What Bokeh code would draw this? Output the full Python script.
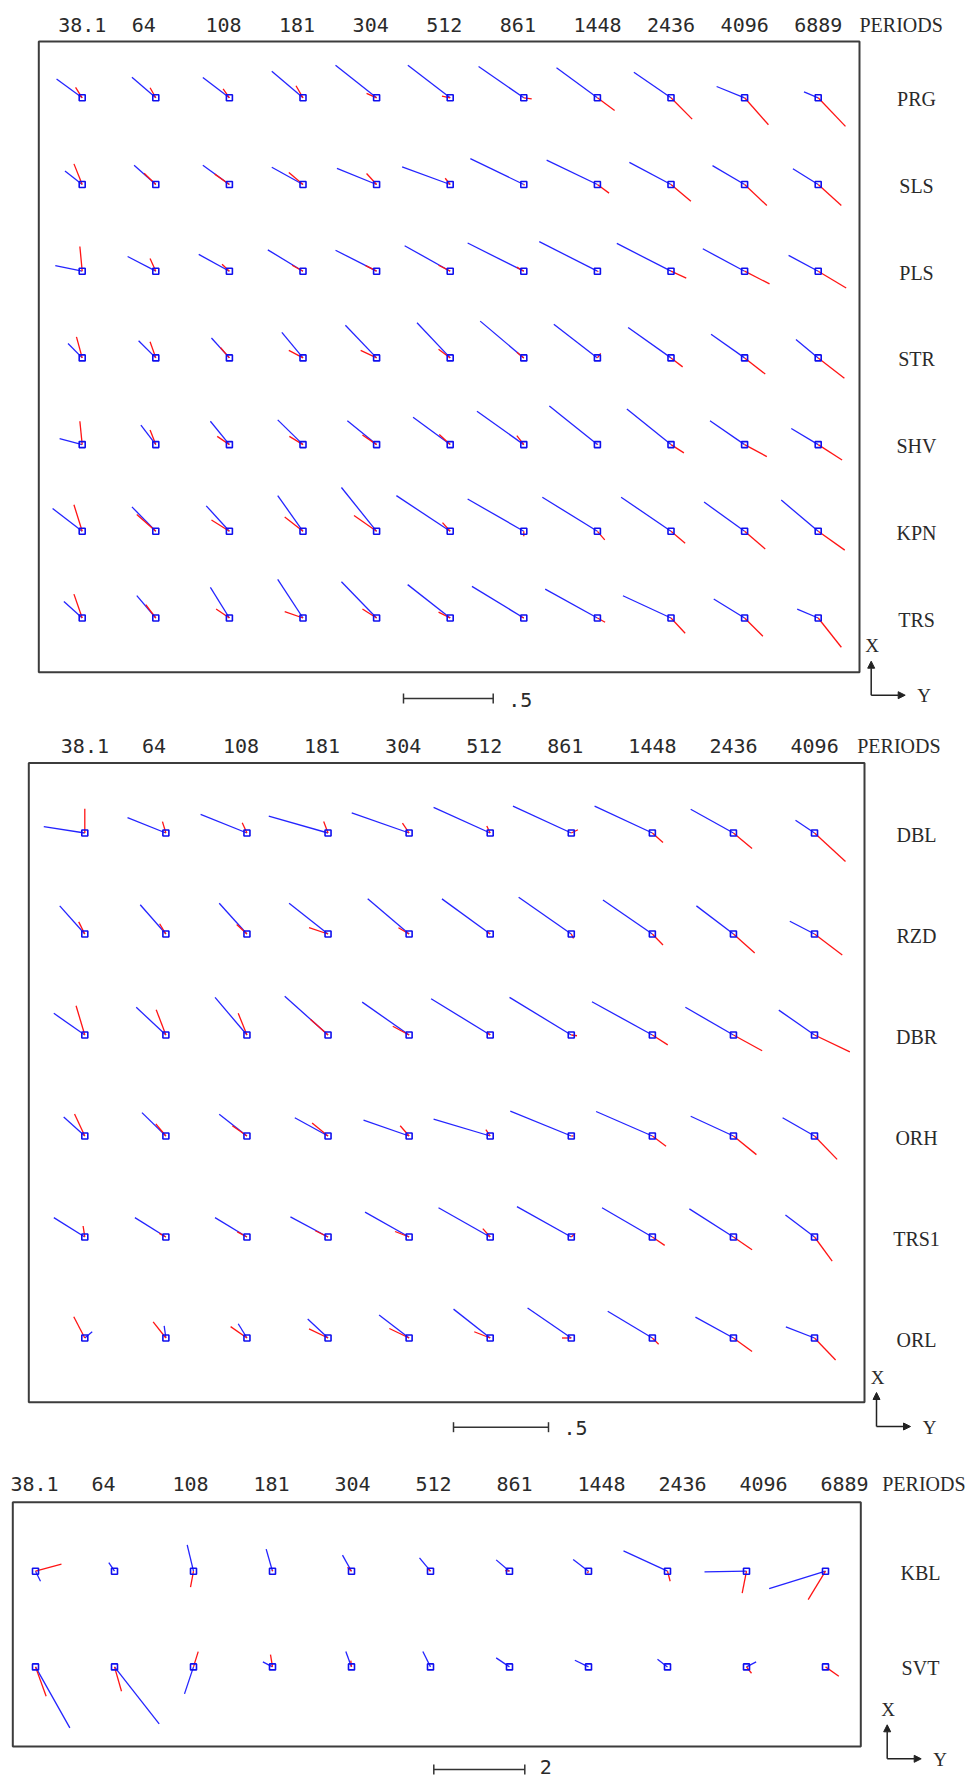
from bokeh.plotting import figure
from bokeh.layouts import column
from bokeh.models import Range1d, Arrow, NormalHead
from bokeh.core.properties import value
from bokeh.embed import file_html
from bokeh.resources import INLINE

W = 978

# ---------------- data ----------------
periods_11 = ["38.1", "64", "108", "181", "304", "512", "861", "1448", "2436", "4096", "6889"]
periods_10 = periods_11[:10]

# Panel 1 stations; vectors: real (blue) and imaginary (red), Y = east (right), X = north (up)
stations_1 = ["PRG", "SLS", "PLS", "STR", "SHV", "KPN", "TRS"]
real_y_1 = [
    [-0.143, -0.133, -0.148, -0.174, -0.229, -0.236, -0.252, -0.228, -0.207, -0.156, -0.079],
    [-0.096, -0.121, -0.148, -0.174, -0.221, -0.268, -0.298, -0.283, -0.232, -0.179, -0.141],
    [-0.150, -0.157, -0.171, -0.196, -0.229, -0.254, -0.313, -0.324, -0.302, -0.233, -0.165],
    [-0.079, -0.096, -0.100, -0.118, -0.174, -0.185, -0.243, -0.243, -0.239, -0.187, -0.124],
    [-0.126, -0.083, -0.106, -0.141, -0.163, -0.207, -0.261, -0.268, -0.246, -0.193, -0.150],
    [-0.165, -0.133, -0.129, -0.141, -0.196, -0.300, -0.313, -0.307, -0.278, -0.226, -0.206],
    [-0.102, -0.106, -0.106, -0.141, -0.196, -0.237, -0.289, -0.291, -0.268, -0.172, -0.117],
]
real_x_1 = [
    [0.105, 0.115, 0.113, 0.148, 0.182, 0.181, 0.174, 0.167, 0.142, 0.063, 0.033],
    [0.075, 0.107, 0.107, 0.096, 0.090, 0.098, 0.144, 0.136, 0.123, 0.105, 0.088],
    [0.031, 0.082, 0.094, 0.119, 0.117, 0.142, 0.157, 0.165, 0.155, 0.125, 0.088],
    [0.080, 0.096, 0.111, 0.142, 0.182, 0.196, 0.205, 0.188, 0.169, 0.132, 0.102],
    [0.033, 0.108, 0.130, 0.138, 0.133, 0.152, 0.186, 0.215, 0.199, 0.133, 0.090],
    [0.127, 0.136, 0.142, 0.199, 0.244, 0.199, 0.180, 0.190, 0.190, 0.163, 0.174],
    [0.092, 0.125, 0.171, 0.215, 0.202, 0.186, 0.176, 0.161, 0.124, 0.106, 0.050],
]
imag_y_1 = [
    [-0.037, -0.032, -0.035, -0.039, -0.056, -0.046, 0.044, 0.096, 0.118, 0.133, 0.152],
    [-0.046, -0.065, -0.082, -0.079, -0.056, -0.028, 0.004, 0.065, 0.111, 0.124, 0.129],
    [-0.013, -0.032, -0.041, -0.061, -0.061, -0.065, -0.039, 0.005, 0.085, 0.139, 0.156],
    [-0.032, -0.032, -0.050, -0.079, -0.089, -0.065, -0.039, 0.018, 0.065, 0.115, 0.146],
    [-0.013, -0.032, -0.068, -0.076, -0.079, -0.061, -0.039, 0.003, 0.072, 0.124, 0.133],
    [-0.046, -0.106, -0.100, -0.102, -0.126, -0.043, 0.000, 0.041, 0.079, 0.115, 0.148],
    [-0.046, -0.056, -0.074, -0.102, -0.079, -0.065, -0.022, 0.043, 0.079, 0.102, 0.129],
]
imag_x_1 = [
    [0.058, 0.056, 0.050, 0.067, 0.025, 0.009, -0.006, -0.071, -0.119, -0.150, -0.159],
    [0.115, 0.063, 0.058, 0.067, 0.061, 0.035, -0.004, -0.048, -0.094, -0.117, -0.117],
    [0.138, 0.071, 0.039, 0.033, 0.031, 0.033, 0.023, -0.003, -0.039, -0.071, -0.094],
    [0.117, 0.090, 0.058, 0.042, 0.042, 0.048, 0.031, 0.025, -0.050, -0.090, -0.113],
    [0.130, 0.082, 0.046, 0.046, 0.054, 0.056, 0.050, 0.003, -0.046, -0.067, -0.086],
    [0.148, 0.094, 0.063, 0.080, 0.088, 0.048, -0.027, -0.048, -0.067, -0.098, -0.105],
    [0.133, 0.075, 0.050, 0.036, 0.050, 0.033, 0.009, -0.024, -0.085, -0.102, -0.163],
]

# Panel 2 stations
stations_2 = ["DBL", "RZD", "DBR", "ORH", "TRS1", "ORL"]
real_y_2 = [
    [-0.216, -0.202, -0.244, -0.312, -0.302, -0.298, -0.307, -0.304, -0.225, -0.100],
    [-0.132, -0.135, -0.146, -0.205, -0.218, -0.254, -0.277, -0.260, -0.195, -0.130],
    [-0.163, -0.156, -0.168, -0.228, -0.247, -0.311, -0.325, -0.318, -0.253, -0.188],
    [-0.111, -0.126, -0.146, -0.175, -0.240, -0.298, -0.321, -0.296, -0.225, -0.168],
    [-0.163, -0.163, -0.168, -0.198, -0.232, -0.272, -0.286, -0.265, -0.232, -0.153],
    [0.039, -0.009, -0.046, -0.107, -0.158, -0.193, -0.230, -0.235, -0.200, -0.151],
]
real_x_2 = [
    [0.033, 0.081, 0.098, 0.089, 0.106, 0.135, 0.141, 0.141, 0.125, 0.067],
    [0.148, 0.154, 0.162, 0.162, 0.185, 0.185, 0.193, 0.179, 0.148, 0.067],
    [0.114, 0.146, 0.198, 0.204, 0.173, 0.191, 0.198, 0.175, 0.146, 0.131],
    [0.100, 0.123, 0.114, 0.096, 0.083, 0.089, 0.131, 0.129, 0.104, 0.096],
    [0.102, 0.102, 0.102, 0.106, 0.131, 0.154, 0.160, 0.154, 0.148, 0.116],
    [0.033, 0.064, 0.075, 0.100, 0.121, 0.152, 0.158, 0.141, 0.110, 0.058],
]
imag_y_2 = [
    [0.000, -0.018, -0.025, -0.023, -0.035, -0.018, 0.035, 0.056, 0.098, 0.163],
    [-0.032, -0.033, -0.054, -0.100, -0.056, -0.018, 0.012, 0.056, 0.112, 0.146],
    [-0.046, -0.051, -0.046, -0.093, -0.086, -0.018, 0.030, 0.081, 0.151, 0.186],
    [-0.054, -0.053, -0.077, -0.084, -0.047, -0.023, 0.012, 0.072, 0.121, 0.119],
    [-0.009, -0.035, -0.051, -0.067, -0.074, -0.039, 0.021, 0.065, 0.098, 0.093],
    [-0.058, -0.067, -0.086, -0.100, -0.104, -0.084, -0.049, 0.033, 0.098, 0.111],
]
imag_x_2 = [
    [0.127, 0.060, 0.054, 0.060, 0.052, 0.037, 0.017, -0.050, -0.081, -0.150],
    [0.064, 0.054, 0.050, 0.033, 0.033, 0.012, -0.023, -0.058, -0.100, -0.110],
    [0.154, 0.133, 0.114, 0.083, 0.046, 0.017, -0.004, -0.052, -0.083, -0.089],
    [0.116, 0.064, 0.054, 0.069, 0.054, 0.033, 0.000, -0.054, -0.098, -0.123],
    [0.058, 0.019, 0.027, 0.033, 0.029, 0.044, 0.019, -0.044, -0.067, -0.127],
    [0.112, 0.085, 0.060, 0.048, 0.050, 0.033, 0.000, -0.033, -0.071, -0.116],
]

# Panel 3 stations
stations_3 = ["KBL", "SVT"]
real_y_3 = [
    [0.110, -0.125, -0.139, -0.139, -0.198, -0.242, -0.293, -0.337, -0.967, -0.923, -1.238],
    [0.755, 0.982, -0.198, -0.212, -0.125, -0.168, -0.293, -0.300, -0.220, 0.212, 0.000],
]
real_x_3 = [
    [-0.220, 0.190, 0.579, 0.484, 0.352, 0.293, 0.249, 0.256, 0.447, -0.015, -0.381],
    [-1.341, -1.253, -0.593, 0.110, 0.337, 0.337, 0.198, 0.147, 0.168, 0.110, 0.000],
]
imag_y_3 = [
    [0.571, 0.000, -0.066, 0.000, -0.088, -0.050, -0.095, -0.022, 0.059, -0.095, -0.381],
    [0.234, 0.154, 0.103, -0.044, -0.015, 0.000, 0.000, 0.000, 0.000, 0.110, 0.293],
]
imag_x_3 = [
    [0.154, 0.000, -0.352, 0.030, 0.088, 0.050, 0.015, -0.044, -0.220, -0.484, -0.623],
    [-0.645, -0.535, 0.337, 0.271, 0.139, 0.000, 0.000, 0.000, 0.000, -0.139, -0.205],
]

# ---------------- layout (page pixels) ----------------
P1 = dict(top=0, h=725, x0=81.7, dx=73.6, y0=97.3, dy=86.7, S=179.4,
          frame=(38.3, 859.0, 41.0, 671.7), lab0=57.7, labdx=73.6, lab_mid=24.2,
          per_x=859.0, bar=(403.0, 698.0), bar_val=0.5, bar_txt=".5", bar_lab_dy=1.0,
          xy=(870.7, 694.7), st_x=916.0)
P2 = dict(top=725, h=730, x0=84.3, dx=81.08, y0=832.5, dy=101.0, S=190.0,
          frame=(28.3, 864.0, 762.4, 1401.7), lab0=60.3, labdx=81.08, lab_mid=745.8,
          per_x=856.7, bar=(453.0, 1426.7), bar_val=0.5, bar_txt=".5", bar_lab_dy=0.5,
          xy=(876.0, 1426.0), st_x=916.0)
P3 = dict(top=1455, h=325, x0=35.0, dx=79.0, y0=1570.7, dy=95.7, S=45.5,
          frame=(12.3, 860.3, 1501.7, 1746.0), lab0=10.0, labdx=81.0, lab_mid=1483.8,
          per_x=881.7, bar=(433.3, 1769.0), bar_val=2.0, bar_txt="2", bar_lab_dy=-2.5,
          xy=(886.7, 1758.3), st_x=920.0)

MONO = value("DejaVu Sans Mono")
SERIF = value("Liberation Serif")
INK = "#2a2a2a"


def make_panel(c, stations, periods, ry, rx, iy, ix):
    top, h = c["top"], c["h"]
    x0, dx, dy, S = c["x0"], c["dx"], c["dy"], c["S"]
    y0 = c["y0"] - top
    p = figure(width=W, height=h,
               x_range=Range1d(-x0 / dx, (W - x0) / dx),
               y_range=Range1d((h - y0) / dy, -y0 / dy),
               output_backend="svg", toolbar_location=None, min_border=0,
               outline_line_color=None, x_axis_type=None, y_axis_type=None,
               background_fill_color="white", border_fill_color="white")
    p.grid.visible = False

    def fx(px):
        return (px - x0) / dx

    def fy(py):
        return (py - top - y0) / dy

    # frame
    L, R, T, B = c["frame"]
    p.quad(left=[fx(L)], right=[fx(R)], top=[fy(T)], bottom=[fy(B)],
           fill_color=None, line_color="#3c3c3c", line_width=2)

    # vectors
    xs, ys, rxe, rye, ixe, iye = [], [], [], [], [], []
    for j in range(len(stations)):
        for i in range(len(periods)):
            xs.append(i)
            ys.append(j)
            rxe.append(i + ry[j][i] * S / dx)
            rye.append(j - rx[j][i] * S / dy)
            ixe.append(i + iy[j][i] * S / dx)
            iye.append(j - ix[j][i] * S / dy)
    p.segment(x0=xs, y0=ys, x1=rxe, y1=rye, line_color="#2424ff", line_width=1.3)
    p.segment(x0=xs, y0=ys, x1=ixe, y1=iye, line_color="#ff1414", line_width=1.3)
    p.scatter(x=xs, y=ys, marker="square", size=6, fill_color=None,
              line_color="#1010ee", line_width=1.6)

    # period labels
    p.text(x=[fx(c["lab0"] + c["labdx"] * i) for i in range(len(periods))],
           y=[fy(c["lab_mid"])] * len(periods), text=periods,
           text_font=MONO, text_font_size="20px", text_color=INK,
           text_align="left", text_baseline="middle")
    p.text(x=[fx(c["per_x"])], y=[fy(c["lab_mid"])], text=["PERIODS"],
           text_font=SERIF, text_font_size="20px", text_color=INK,
           text_align="left", text_baseline="middle")

    # station names
    p.text(x=[fx(c["st_x"])] * len(stations),
           y=[j + 1.5 / dy for j in range(len(stations))], text=stations,
           text_font=SERIF, text_font_size="20px", text_color=INK,
           text_align="center", text_baseline="middle")

    # scale bar
    bx, by = c["bar"]
    bx0 = fx(bx)
    bx1 = bx0 + c["bar_val"] * S / dx
    p.segment(x0=[bx0, bx0, bx1], y0=[fy(by), fy(by - 5), fy(by - 5)],
              x1=[bx1, bx0, bx1], y1=[fy(by), fy(by + 5), fy(by + 5)],
              line_color="#333333", line_width=1.5)
    p.text(x=[bx1 + 15 / dx], y=[fy(by + c["bar_lab_dy"])], text=[c["bar_txt"]],
           text_font=MONO, text_font_size="20px", text_color=INK,
           text_align="left", text_baseline="middle")

    # X / Y orientation indicator
    ox, oy = c["xy"]
    head = dict(size=7, fill_color="#222222", line_color="#222222")
    p.add_layout(Arrow(end=NormalHead(**head), x_start=fx(ox), y_start=fy(oy),
                       x_end=fx(ox), y_end=fy(oy - 34), line_width=1.5,
                       line_color="#222222"))
    p.add_layout(Arrow(end=NormalHead(**head), x_start=fx(ox), y_start=fy(oy),
                       x_end=fx(ox + 34), y_end=fy(oy), line_width=1.5,
                       line_color="#222222"))
    p.text(x=[fx(ox + 1), fx(ox + 53)], y=[fy(oy - 49.5), fy(oy + 0.5)], text=["X", "Y"],
           text_font=SERIF, text_font_size="19px", text_color=INK,
           text_align="center", text_baseline="middle")
    return p


p1 = make_panel(P1, stations_1, periods_11, real_y_1, real_x_1, imag_y_1, imag_x_1)
p2 = make_panel(P2, stations_2, periods_10, real_y_2, real_x_2, imag_y_2, imag_x_2)
p3 = make_panel(P3, stations_3, periods_11, real_y_3, real_x_3, imag_y_3, imag_x_3)

layout = column(p1, p2, p3, spacing=0)
open("out.html", "w").write(file_html(layout, INLINE))
